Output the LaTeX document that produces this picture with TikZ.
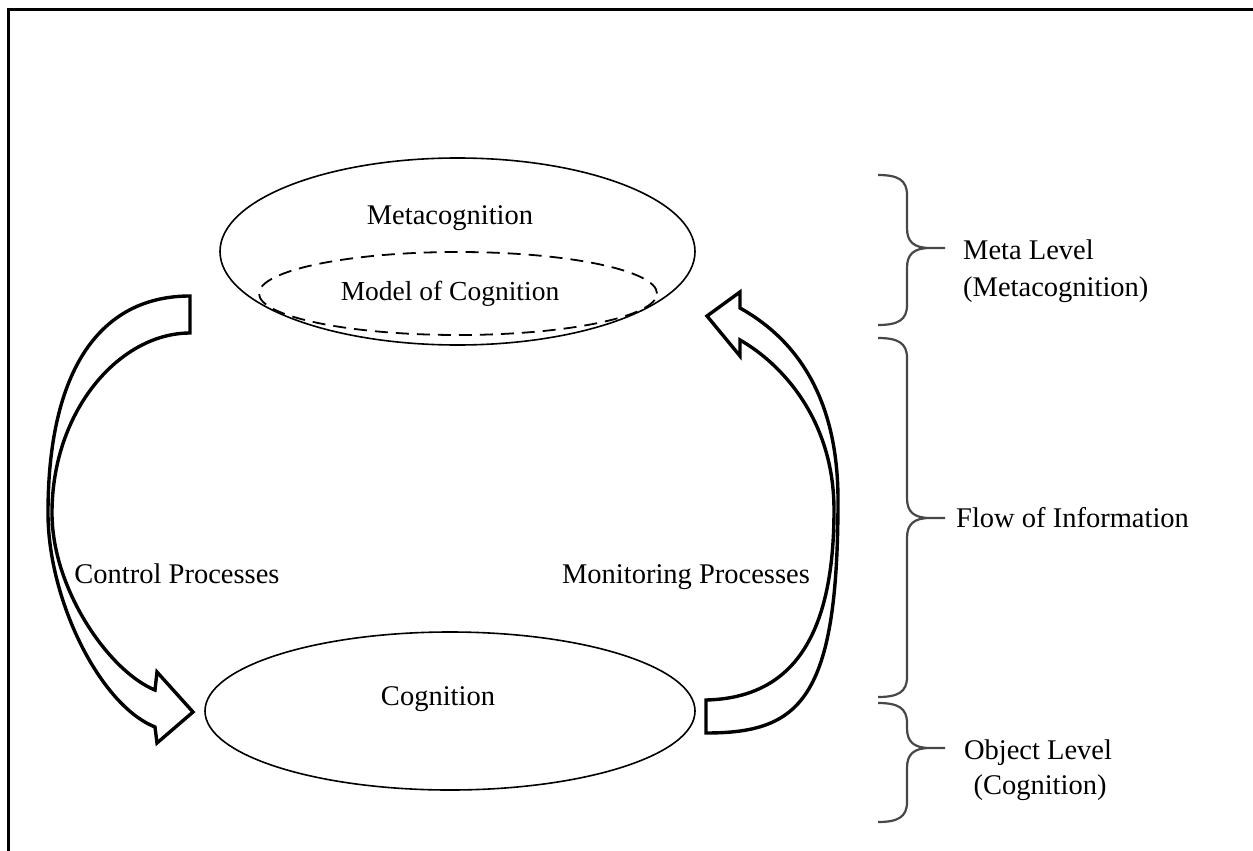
\documentclass[tikz,border=0pt]{standalone}
\usepackage{fontspec}
\setmainfont{Liberation Serif}
\usetikzlibrary{shapes.geometric}
\begin{document}
\begin{tikzpicture}[x=1pt,y=-1pt,
  bubble/.style={draw, ellipse, line width=1.6pt, inner sep=0pt, outer sep=0pt},
  modelbubble/.style={draw, ellipse, dash pattern=on 13pt off 8pt, line width=1.8pt, inner sep=0pt, outer sep=0pt},
  lbl/.style={font=\fontsize{28.5}{34}\selectfont, inner sep=0pt, anchor=base},
  smalllbl/.style={font=\fontsize{27.5}{33}\selectfont, inner sep=0pt, anchor=base},
  blockarrow/.style={draw, line width=3.4pt, line join=miter, miter limit=4, fill=white},
  bracket/.style={draw=black!72, line width=2.2pt},
  frameline/.style={line width=3pt, line join=miter}]
\useasboundingbox (0,0) rectangle (1253,851);

% frame (top and left edges)
\draw[frameline] (8,851) -- (8,10) -- (1253,10);

% levels
\node[bubble, minimum width=475pt, minimum height=187pt] (meta) at (457.5,251.5) {};
\node[modelbubble, minimum width=398pt, minimum height=83pt] (model) at (458,293.5) {};
\node[bubble, minimum width=490pt, minimum height=158pt] (cog) at (450,711) {};

\node[lbl] (metatxt) at (450,224) {Metacognition};
\node[smalllbl] (modeltxt) at (450,300) {Model of Cognition};
\node[lbl] (cogtxt) at (438,705.5) {Cognition};

% control processes: block arrow from the meta level down to cognition
\draw[blockarrow] (190,296)
  .. controls (100,296) and (48,370) .. (48,513)
  .. controls (48,600) and (100,705) .. (155,727)
  -- (157,743) -- (193,712) -- (157,672) -- (155,690)
  .. controls (110,672) and (52,590) .. (52,513)
  .. controls (52,410) and (120,333) .. (190,333) -- cycle;

% monitoring processes: block arrow from cognition up to the meta level
\draw[blockarrow] (706,733)
  .. controls (800,733) and (838,700) .. (838,500)
  .. controls (838,390) and (790,336) .. (740,308)
  -- (740,292) -- (707,316) -- (740,356) -- (740,340)
  .. controls (782,364) and (834,420) .. (834,510)
  .. controls (834,640) and (790,698) .. (706,700) -- cycle;

\node[lbl] (ctrltxt) at (177,583.5) {Control Processes};
\node[lbl] (montxt) at (686,583.5) {Monitoring Processes};

% braces on the right
\draw[bracket] (878,175) .. controls (898,175) and (907,180) .. (907,195)
  -- (907,228) .. controls (907,242) and (914,248) .. (930,248) -- (945,248)
  (930,248) .. controls (914,248) and (907,254) .. (907,268)
  -- (907,305) .. controls (907,320) and (898,325) .. (878,325);
\draw[bracket] (878,338) .. controls (898,338) and (907,343) .. (907,358)
  -- (907,498) .. controls (907,512) and (914,518) .. (930,518) -- (945,518)
  (930,518) .. controls (914,518) and (907,524) .. (907,538)
  -- (907,677) .. controls (907,692) and (898,697) .. (878,697);
\draw[bracket] (878,703) .. controls (898,703) and (907,708) .. (907,723)
  -- (907,728) .. controls (907,742) and (914,748) .. (930,748) -- (945,748)
  (930,748) .. controls (914,748) and (907,754) .. (907,768)
  -- (907,802) .. controls (907,817) and (898,822) .. (878,822);

\node[lbl, anchor=base west] (meta1) at (963,259) {Meta Level};
\node[lbl, anchor=base west] (meta2) at (963,296) {(Metacognition)};
\node[lbl, anchor=base west] (flow) at (956,527.5) {Flow of Information};
\node[lbl] (obj1) at (1038,759) {Object Level};
\node[lbl] (obj2) at (1040,794) {(Cognition)};
\end{tikzpicture}
\end{document}
